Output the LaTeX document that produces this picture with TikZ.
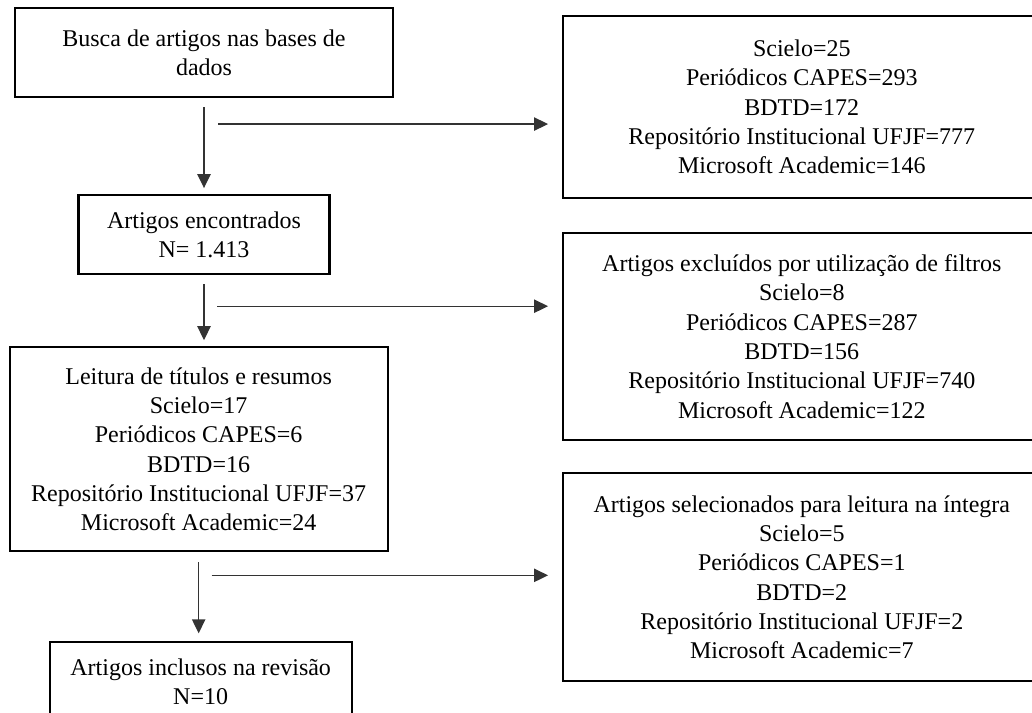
\documentclass[tikz,border=0pt]{standalone}
\usepackage{fontspec}
\setmainfont{Liberation Serif}
\usepackage{tikz}
\usetikzlibrary{arrows.meta,positioning}
\newcommand{\boxfont}{\fontsize{18}{22}\selectfont}
\tikzset{
  flowbox/.style={rectangle,draw=black,line width=1.6pt,fill=white,
    align=center,font=\boxfont,inner sep=4pt},
  sidebox/.style={rectangle,draw=black,line width=1.6pt,fill=white,
    minimum width=358pt,align=center,font=\boxfont,inner sep=4pt},
  arrow/.style={-{Triangle[length=10.5pt,width=10pt]},line width=1pt,draw=black!80},
}

\begin{document}
\begin{tikzpicture}[node distance=72pt and 127.5pt]
  \useasboundingbox (0,0) rectangle (774pt,-534.75pt);
  \node[flowbox, minimum width=283.5pt, minimum height=66.75pt] (busca) at (153pt,-39.375pt)
    {Busca de artigos nas bases de\\dados};
  \node[flowbox, minimum width=188.25pt, minimum height=59.25pt, below=72pt of busca] (encontrados)
    {Artigos encontrados\\N= 1.413};
  \node[flowbox, minimum width=283.5pt, minimum height=153pt, below=53.25pt of encontrados, xshift=-4pt] (leitura)
    {Leitura de títulos e resumos\\Scielo=17\\Periódicos CAPES=6\\BDTD=16\\Repositório Institucional UFJF=37\\Microsoft Academic=24};
  \node[flowbox, minimum width=226.5pt, minimum height=59.25pt, below=66.75pt of leitura, xshift=1.5pt] (inclusos)
    {Artigos inclusos na revisão\\N=10};
  \node[sidebox, minimum height=136.5pt, right=126pt of busca.north east, anchor=north west, yshift=-6pt] (bases)
    {Scielo=25\\Periódicos CAPES=293\\BDTD=172\\Repositório Institucional UFJF=777\\Microsoft Academic=146};
  \node[sidebox, minimum height=155.25pt, below=24.75pt of bases] (excluidos)
    {Artigos excluídos por utilização de filtros\\Scielo=8\\Periódicos CAPES=287\\BDTD=156\\Repositório Institucional UFJF=740\\Microsoft Academic=122};
  \node[sidebox, minimum height=156pt, below=23.25pt of excluidos] (selecionados)
    {Artigos selecionados para leitura na íntegra\\Scielo=5\\Periódicos CAPES=1\\BDTD=2\\Repositório Institucional UFJF=2\\Microsoft Academic=7};
  \path (busca.south) ++(10.5pt,-19.5pt) coordinate (saida1);
  \path (encontrados.south) ++(10pt,-23.25pt) coordinate (saida2);
  \path (leitura.south) ++(9.75pt,-17.25pt) coordinate (saida3);
  \draw[arrow, shorten <=6.75pt, shorten >=4.5pt] (busca.south) -- (encontrados.north);
  \draw[arrow, shorten <=6.75pt, shorten >=4.5pt] (encontrados.south) -- (encontrados.south |- leitura.north);
  \draw[arrow, shorten <=7.5pt, shorten >=6pt] (leitura.south) -- (leitura.south |- inclusos.north);
  \draw[arrow, shorten >=10.5pt] (saida1) -- (saida1 -| bases.west);
  \draw[arrow, shorten >=10.5pt] (saida2) -- (saida2 -| excluidos.west);
  \draw[arrow, shorten >=10.5pt] (saida3) -- (saida3 -| selecionados.west);
\end{tikzpicture}
\end{document}
